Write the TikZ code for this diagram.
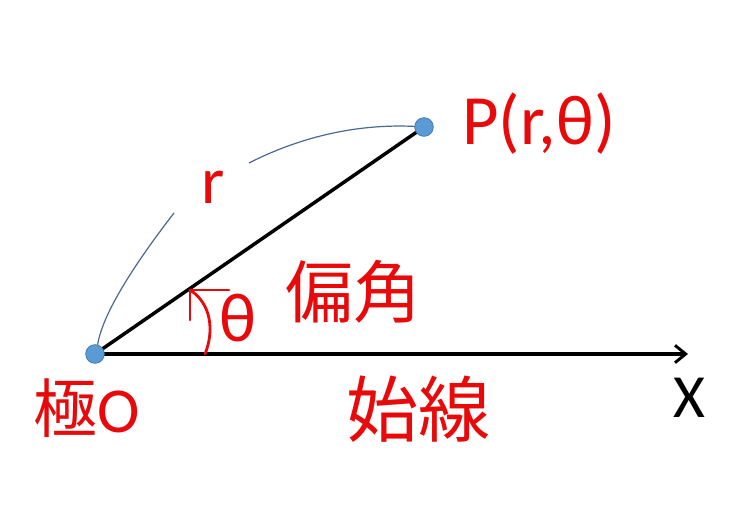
\documentclass[tikz,border=0pt]{standalone}
\usepackage{fontspec}
\setmainfont{Carlito}
\newfontfamily\cjk{Noto Sans CJK JP}
\usetikzlibrary{arrows.meta}
\definecolor{redtxt}{RGB}{232,10,10}
\definecolor{dotblue}{RGB}{91,155,213}
\definecolor{dotedge}{RGB}{70,120,170}
\definecolor{arcblue}{RGB}{75,105,145}
\begin{document}
\begin{tikzpicture}[x=0.75pt,y=-0.75pt,
  lbl/.style={text=redtxt, inner sep=0pt, anchor=center},
  dotnode/.style={circle, fill=dotblue, draw=dotedge, line width=0.6pt, minimum size=14pt, inner sep=0pt},
  blackline/.style={line width=2.6pt, black},
  arcline/.style={line width=0.9pt, arcblue},
  redline/.style={line width=2.1pt, redtxt, line cap=round, line join=miter}]
\useasboundingbox (0,0) rectangle (739,506);
\fill[white] (0,0) rectangle (739,506);
\coordinate (O) at (95,354);
\coordinate (P) at (424,127);
\coordinate (X) at (688,354);
\coordinate (a1) at (174,213);
\coordinate (a2) at (249,163);
\coordinate (tip) at (190,290);
% connectors
\draw[blackline] (O) -- (P);
\draw[blackline, -{Straight Barb[length=8pt,width=13pt,line width=2.2pt]}] (O) -- (X);
\draw[arcline] (97,350) .. controls (99,320) and (130,270) .. (a1);
\draw[arcline] (a2) .. controls (300,137) and (360,122) .. (P);
% angle arc
\draw[redline] (205,354) .. controls (214,332) and (212,304) .. (tip);
\draw[redline] (229,290) -- (tip) -- (190,320);
% dots
\node[dotnode] (dotO) at (O) {};
\node[dotnode] (dotP) at (P) {};
% labels
\node[lbl, font=\fontsize{50}{50}\selectfont] (lr) at (213,187) {r};
\node[lbl, font=\fontsize{53}{53}\selectfont, anchor=base west] (lP) at (462,145) {P(r,θ)};
\node[lbl, font=\fontsize{52}{52}\selectfont] (lth) at (238,318) {θ};
\node[lbl, font=\cjk\fontsize{51}{51}\selectfont] (lpian) at (353,292) {偏角};
\node[lbl, font=\fontsize{48}{48}\selectfont, anchor=base west] (lO) at (33,432) {{\cjk 極}O};
\node[lbl, font=\cjk\fontsize{54}{54}\selectfont] (lshi) at (418,409) {始線};
\node[text=black, inner sep=0pt, font=\fontsize{46}{46}\selectfont, anchor=base] (lX) at (689,417) {X};
\end{tikzpicture}
\end{document}
